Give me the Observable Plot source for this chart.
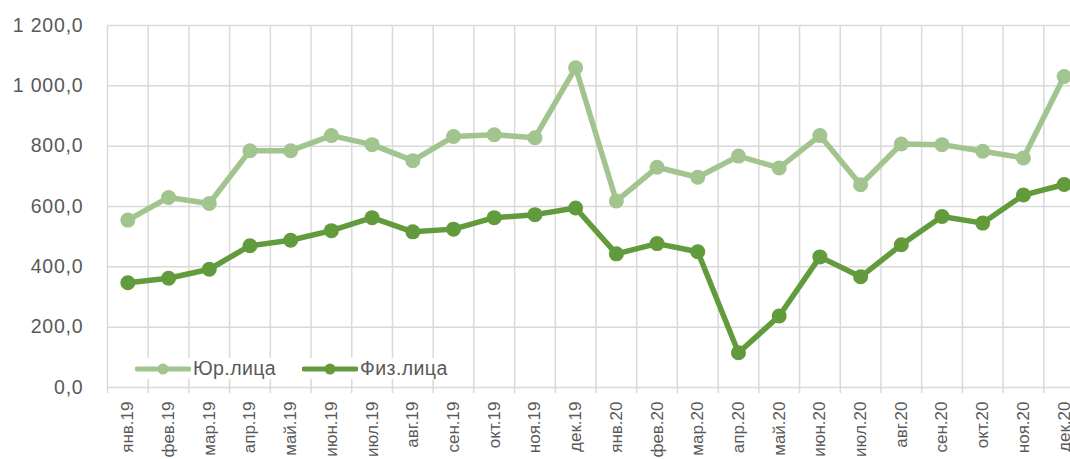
<!DOCTYPE html>
<html><head><meta charset="utf-8">
<script src="https://cdn.jsdelivr.net/npm/d3@7"></script>
<script src="https://cdn.jsdelivr.net/npm/@observablehq/plot@0.6"></script>
<style>
html,body{margin:0;padding:0;background:#fff;overflow:hidden;width:1070px;height:459px}
#wrap{position:relative;width:1070px;height:459px;overflow:hidden}
#wrap svg{max-width:none !important;display:block}
#wrap g[aria-label="y-axis tick label"] text{letter-spacing:0.8px}
.legend{position:absolute;left:131px;top:358px;height:21px;background:#fff;display:flex;align-items:center;
  font-family:"Liberation Sans",Arial,sans-serif;font-size:19.5px;letter-spacing:0.4px;color:#595959;padding:0 4px}
.item{display:flex;align-items:center}
.item svg{margin-right:2px}
.item + .item{margin-left:26px}
</style>
</head><body>
<div id="wrap"></div>
<script>
const months = ["янв.19","фев.19","мар.19","апр.19","май.19","июн.19","июл.19","авг.19","сен.19","окт.19","ноя.19","дек.19",
                "янв.20","фев.20","мар.20","апр.20","май.20","июн.20","июл.20","авг.20","сен.20","окт.20","ноя.20","дек.20"];
const seriesNames = ["Юр.лица", "Физ.лица"];
const yurValues = [555, 630, 610, 785, 785, 835, 805, 752, 832, 838, 828, 1060,
                   618, 730, 697, 767, 728, 835, 672, 807, 805, 783, 761, 1031];
const fizValues = [347, 362, 392, 470, 488, 520, 563, 516, 525, 563, 573, 595,
                   443, 477, 450, 115, 237, 433, 367, 473, 567, 545, 638, 673];
const yTicks = [0, 200, 400, 600, 800, 1000, 1200];
const colors = ["#A2C48F", "#629B3C"];

const ru = d3.formatLocale({decimal: ",", thousands: "\u00a0", grouping: [3], currency: ["", ""]});
const fmt = ru.format(",.1f");

const idx = months.map((_, i) => i);
const seriesValues = [yurValues, fizValues];

const marks = [
  Plot.ruleY(yTicks, {stroke: "#d9d9d9", strokeWidth: 1.5}),
  Plot.ruleX(d3.range(months.length + 1), {stroke: "#d9d9d9", strokeWidth: 1.5, insetBottom: -6}),
  Plot.axisY({ticks: yTicks, tickFormat: fmt, tickSize: 0, tickPadding: 24, fontSize: 19.5, label: null}),
  Plot.axisX({ticks: idx.map(i => i + 0.5), tickFormat: v => months[Math.floor(v)], tickRotate: -90,
              tickSize: 0, tickPadding: 14, fontSize: 17, label: null})
];
seriesValues.forEach((vals, s) => {
  marks.push(Plot.line(idx, {x: i => i + 0.5, y: i => vals[i], stroke: colors[s], strokeWidth: 5.5}));
  marks.push(Plot.dot(idx, {x: i => i + 0.5, y: i => vals[i], fill: colors[s], r: 7.5}));
});

const chart = Plot.plot({
  width: 1084, height: 459,
  marginLeft: 107, marginRight: 0, marginTop: 25, marginBottom: 72,
  x: {type: "linear", domain: [0, months.length]},
  y: {domain: [0, 1200]},
  style: {fontFamily: "'Liberation Sans', Arial, sans-serif", color: "#595959", background: "white"},
  marks
});
const wrap = document.getElementById("wrap");
wrap.appendChild(chart);

const legend = document.createElement("div");
legend.className = "legend";
seriesNames.forEach((name, s) => {
  const item = document.createElement("div");
  item.className = "item";
  item.innerHTML = `<svg width="56" height="16"><line x1="2" x2="54" y1="8" y2="8" stroke="${colors[s]}" stroke-width="5" stroke-linecap="round"/><circle cx="28" cy="8" r="5.5" fill="${colors[s]}"/></svg><span>${name}</span>`;
  legend.appendChild(item);
});
wrap.appendChild(legend);
</script>
</body></html>
